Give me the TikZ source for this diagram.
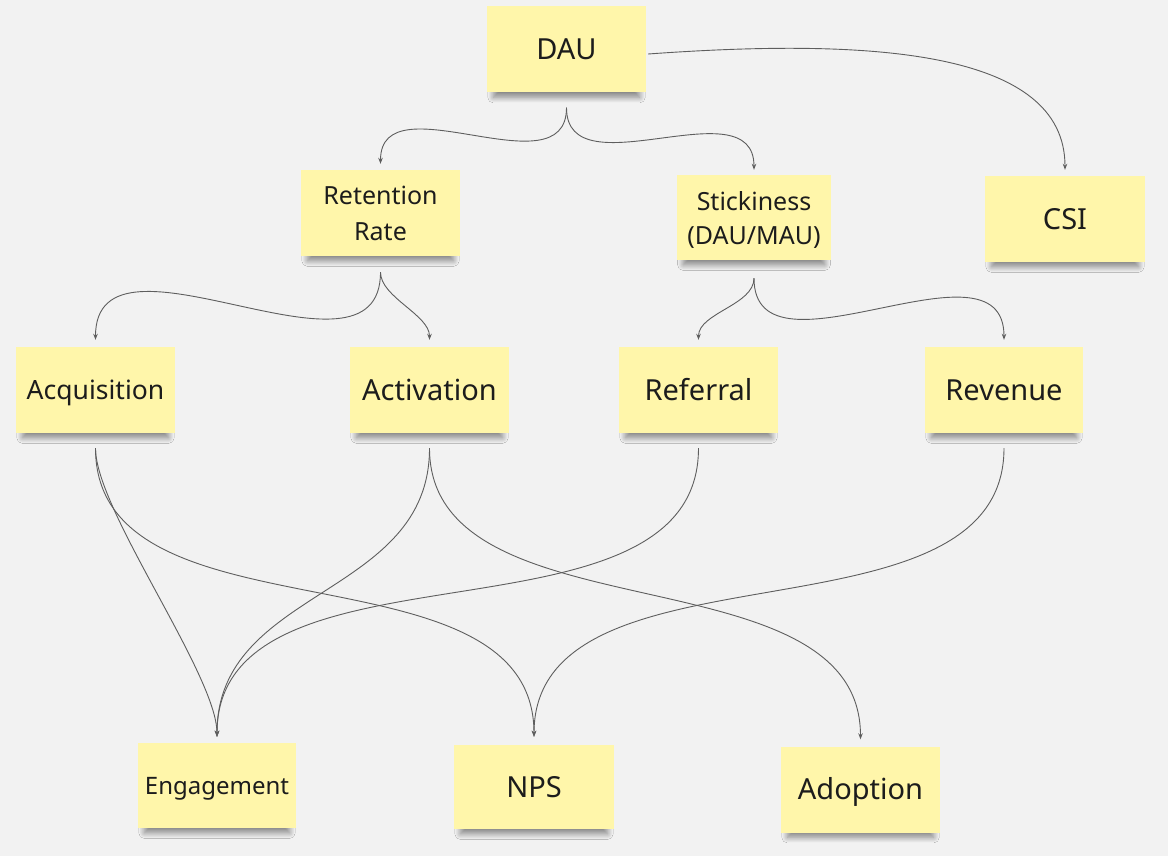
\documentclass[tikz,border=0pt]{standalone}
\usepackage{fontspec}
\setmainfont{Noto Sans}
\usetikzlibrary{arrows.meta,shadows.blur}
\definecolor{bg}{HTML}{F2F2F2}
\definecolor{notey}{HTML}{FFF6AA}
\definecolor{wirec}{HTML}{5E5E5E}
\definecolor{ink}{HTML}{1C1C1C}
\begin{document}
\begin{tikzpicture}[x=1pt,y=-1pt,
  note/.style={fill=notey, minimum width=159pt, minimum height=86pt, inner sep=0pt,
    align=center, text=ink,
    blur shadow={shadow xshift=0pt, shadow yshift=-9pt, shadow scale=0.92,
      shadow opacity=45, shadow blur radius=6pt, shadow blur steps=12}},
  big/.style={font=\fontsize{29}{36}\selectfont, text height=20.7pt, text depth=0pt},
  mid/.style={font=\fontsize{26.5}{34}\selectfont, text height=19pt, text depth=0pt},
  small/.style={font=\fontsize{24}{30}\selectfont, text height=17.1pt, text depth=0pt},
  two/.style={font=\fontsize{25}{36}\selectfont},
  wire/.style={draw=wirec, line width=0.9pt, -{Stealth[length=6pt,width=4.5pt]}}
]
\fill[bg] (0,0) rectangle (1168,856);
\useasboundingbox (0,0) rectangle (1168,856);

% notes
\node[note,big] (dau) at (566.5,49.5) {DAU};
\node[note,two] (ret) at (380.5,213) {Retention\\Rate};
\node[note,font=\fontsize{25}{34}\selectfont, text depth=0pt, minimum width=154pt, minimum height=85pt] (stk) at (754,217.5) {Stickiness\\(DAU/MAU)};
\node[note,big, minimum width=160pt] (csi) at (1065,219) {CSI};
\node[note,mid] (acq) at (95.5,390) {Acquisition};
\node[note,big] (act) at (429.5,390) {Activation};
\node[note,big] (ref) at (698.5,390) {Referral};
\node[note,big, minimum width=158pt] (rev) at (1004,390) {Revenue};
\node[note,small, minimum width=158pt, minimum height=85pt] (eng) at (217,785.5) {Engagement};
\node[note,big, minimum width=160pt, minimum height=84pt] (nps) at (534,787) {NPS};
\node[note,big] (ado) at (860.5,789.5) {Adoption};

% connectors
\draw[wire] ([xshift=2pt,yshift=-4.5pt]dau.east) .. controls +(222,-16) and +(0,-120) .. ([yshift=6pt]csi.north);
\draw[wire] ([yshift=-15pt]dau.south) .. controls +(0,85) and +(0,-85) .. ([yshift=6pt]ret.north);
\draw[wire] ([yshift=-15pt]dau.south) .. controls +(0,85) and +(0,-85) .. ([yshift=5pt]stk.north);
\draw[wire] ([yshift=-16pt]ret.south) .. controls +(0,128) and +(0,-128) .. ([yshift=7pt]acq.north);
\draw[wire] ([yshift=-16pt]ret.south) .. controls +(0,25) and +(0,-25) .. ([yshift=7pt]act.north);
\draw[wire] ([yshift=-18pt]stk.south) .. controls +(0,27) and +(0,-27) .. ([yshift=7pt]ref.north);
\draw[wire] ([yshift=-18pt]stk.south) .. controls +(0,111) and +(0,-111) .. ([yshift=7pt]rev.north);
\draw[wire] ([yshift=-15pt]acq.south) .. controls +(0,62) and +(0,-62) .. ([yshift=6pt]eng.north);
\draw[wire] ([yshift=-15pt]acq.south) .. controls +(0,200) and +(0,-200) .. ([yshift=8pt]nps.north);
\draw[wire] ([yshift=-15pt]act.south) .. controls +(0,150) and +(0,-150) .. ([yshift=6pt]eng.north);
\draw[wire] ([yshift=-15pt]act.south) .. controls +(0,192) and +(0,-192) .. ([yshift=7pt]ado.north);
\draw[wire] ([yshift=-15pt]ref.south) .. controls +(0,210) and +(0,-210) .. ([yshift=6pt]eng.north);
\draw[wire] ([yshift=-15pt]rev.south) .. controls +(0,205) and +(0,-205) .. ([yshift=8pt]nps.north);
\end{tikzpicture}
\end{document}
